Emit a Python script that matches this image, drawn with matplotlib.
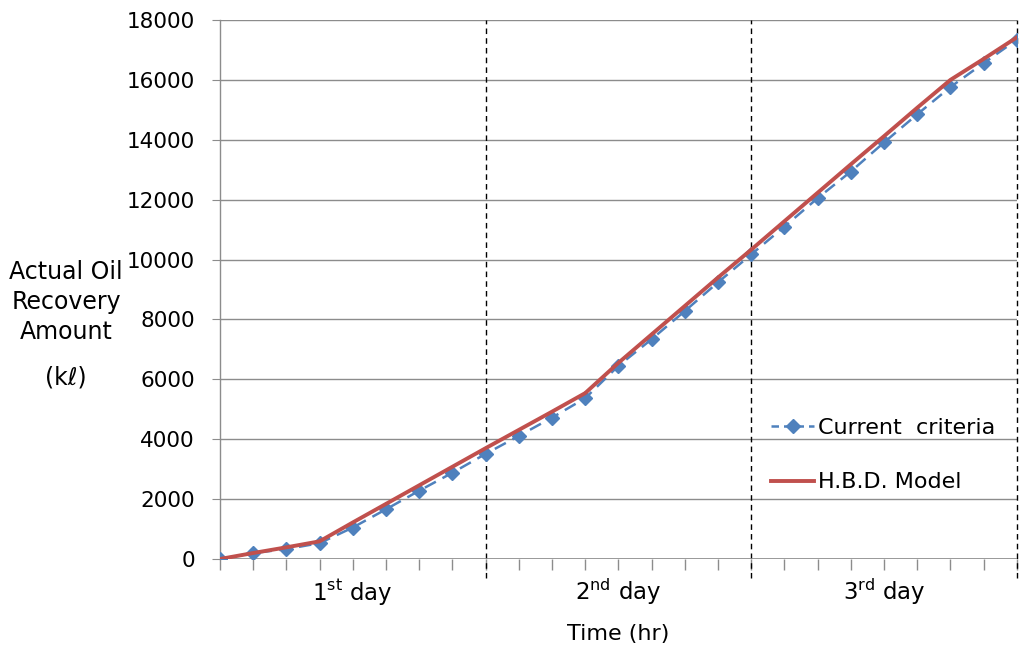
import matplotlib
matplotlib.use("Agg")
import matplotlib.pyplot as plt
from matplotlib.lines import Line2D

# Elapsed time (hr), sampled every 3 hours over three days
hours = [0, 3, 6, 9, 12, 15, 18, 21, 24, 27, 30, 33, 36, 39, 42, 45, 48,
         51, 54, 57, 60, 63, 66, 69, 72]

# Actual oil recovery amount (kl)
current_criteria = [0, 200, 330, 530, 1050, 1660, 2280, 2880, 3510, 4110,
                    4720, 5370, 6450, 7340, 8280, 9240, 10170, 11100, 12050,
                    12940, 13910, 14850, 15760, 16560, 17340]
hbd_model = [0, 200, 390, 590, 1220, 1840, 2460, 3080, 3700, 4310, 4920,
             5540, 6550, 7500, 8450, 9400, 10330, 11280, 12230, 13180,
             14120, 15070, 16000, 16700, 17420]

day_bounds = [24, 48, 72]
day_centers = [12, 36, 60]
day_labels = ["1$^{\\rm st}$ day", "2$^{\\rm nd}$ day", "3$^{\\rm rd}$ day"]
y_ticks = list(range(0, 18001, 2000))

plt.rcParams["font.family"] = ["DejaVu Sans"]

fig = plt.figure(figsize=(10.23, 6.51), dpi=100)
ax = fig.add_axes([0.215, 0.1413, 0.779, 0.828])

grid_c = "#8c8c8c"
blue = "#4F81BD"
red = "#C0504D"

ax.set_xlim(0, 72)
ax.set_ylim(0, 18000)

# horizontal gridlines
for y in y_ticks:
    ax.axhline(y, color=grid_c, lw=1.0, zorder=1)

# day separators, extending below the axis like long ticks
ax.vlines(day_bounds, -650, 18000, colors="black", linestyles=(0, (4, 3)),
          lw=1.0, clip_on=False, zorder=2)

ax.plot(hours, current_criteria, color=blue, ls=(0, (5, 3)), lw=1.8,
        marker="D", ms=7.5, mfc=blue, mec=blue, zorder=3,
        label="Current  criteria")
ax.plot(hours, hbd_model, color=red, lw=2.8, zorder=4, label="H.B.D. Model")

for s in ["top", "right", "bottom"]:
    ax.spines[s].set_visible(False)
ax.spines["left"].set_color(grid_c)
ax.spines["left"].set_linewidth(1.0)
ax.axhline(0, color=grid_c, lw=1.2, zorder=2)

ax.set_yticks(y_ticks)
ax.set_yticklabels([str(v) for v in y_ticks], fontsize=15.5)
ax.tick_params(axis="y", direction="out", length=6, color=grid_c, pad=12)
ax.set_xticks(hours)
ax.set_xticklabels([])
ax.tick_params(axis="x", direction="out", length=8, color=grid_c, width=1)

for xc, lab in zip(day_centers, day_labels):
    ax.text(xc, -1100, lab, ha="center", va="center", fontsize=16.5)

ax.text(0.5, -0.14, "Time (hr)", transform=ax.transAxes, ha="center",
        va="center", fontsize=16)

for txt, yp in [("Actual Oil", 272), ("Recovery", 302), ("Amount", 332),
                ("(kℓ)", 378)]:
    fig.text(66 / 1023, 1 - yp / 651, txt, ha="center", va="center",
             fontsize=17)

handles = [Line2D([], [], color=blue, ls=(0, (3, 2)), lw=1.8, marker="D",
                  ms=7.5),
           Line2D([], [], color=red, lw=2.8)]
ax.legend(handles, ["Current  criteria", "H.B.D. Model"], loc="upper left",
          bbox_to_anchor=(0.667, 0.299), frameon=False, fontsize=16,
          handlelength=1.9, handletextpad=0.2, labelspacing=1.55)

fig.savefig("out.png", dpi=100)
